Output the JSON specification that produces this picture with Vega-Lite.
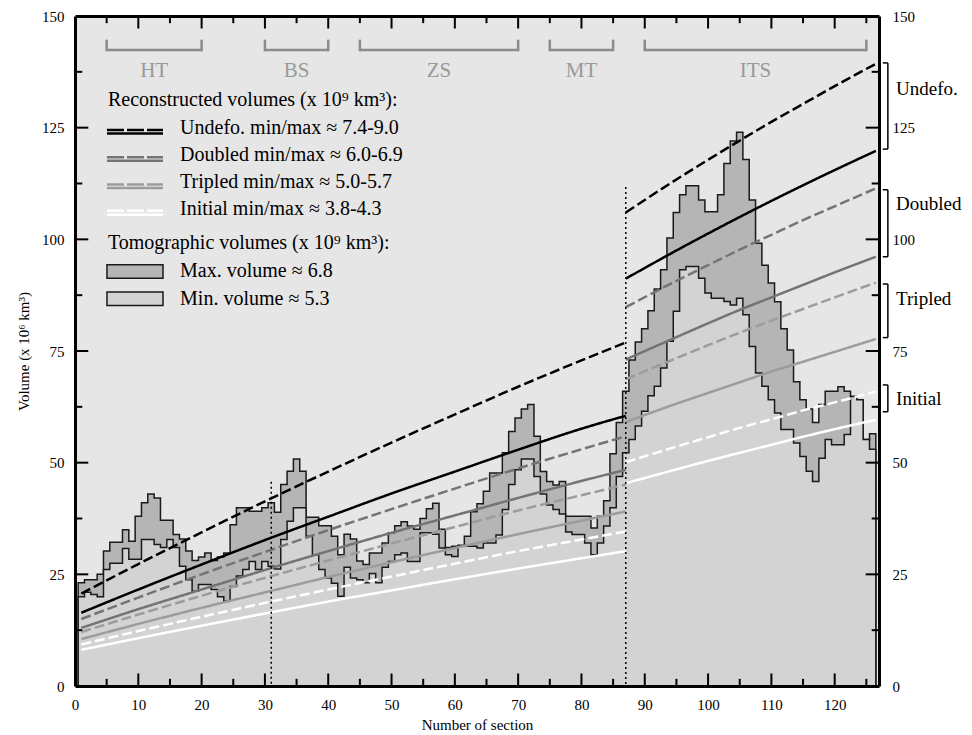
{
"$schema": "https://vega.github.io/schema/vega-lite/v6.json",
"width": 804, "height": 670,
"autosize": "none",
"padding": {"left": 75, "top": 16, "right": 93, "bottom": 49},
"background": "white",
"config": {
  "view": {"fill": "#e6e6e6", "stroke": null},
  "axis": {"grid": false, "ticks": false, "domainColor": "#000", "domainWidth": 3, "labelColor": "#000", "titleColor": "#000", "labelFont": "Liberation Serif", "titleFont": "Liberation Serif", "titleFontWeight": "normal", "labelFlush": false, "labelOverlap": false},
  "text": {"font": "Liberation Serif"}
},
"datasets": {
  "profile": [
    {"s":0.5,"max":23.1,"min":20.0},{"s":1,"max":23.1,"min":20.0},{"s":2,"max":23.8,"min":21.0},{"s":3,"max":23.8,"min":20.5},{"s":4,"max":25.0,"min":20.0},
    {"s":5,"max":30.2,"min":26.1},{"s":6,"max":32.2,"min":27.5},{"s":7,"max":32.2,"min":27.5},{"s":8,"max":35.0,"min":30.8},{"s":9,"max":32.4,"min":28.4},
    {"s":10,"max":38.0,"min":28.4},{"s":11,"max":41.0,"min":32.8},{"s":12,"max":43.0,"min":32.8},{"s":13,"max":42.1,"min":31.7},{"s":14,"max":37.1,"min":31.0},
    {"s":15,"max":37.1,"min":32.8},{"s":16,"max":33.9,"min":31.0},{"s":17,"max":32.9,"min":26.8},{"s":18,"max":30.2,"min":23.8},{"s":19,"max":28.1,"min":21.2},
    {"s":20,"max":28.9,"min":22.7},{"s":21,"max":29.8,"min":22.7},{"s":22,"max":28.1,"min":21.6},{"s":23,"max":28.9,"min":20.0},{"s":24,"max":29.8,"min":19.0},
    {"s":25,"max":36.1,"min":22.3},{"s":26,"max":39.9,"min":24.6},{"s":27,"max":39.9,"min":26.1},{"s":28,"max":39.1,"min":27.9},{"s":29,"max":39.1,"min":26.1},
    {"s":30,"max":39.9,"min":27.9},{"s":31,"max":41.0,"min":26.8},{"s":32,"max":38.9,"min":26.2},{"s":33,"max":45.1,"min":32.8},{"s":34,"max":48.1,"min":36.9},
    {"s":35,"max":50.8,"min":39.9},{"s":36,"max":48.1,"min":39.9},{"s":37,"max":37.8,"min":33.5},{"s":38,"max":37.8,"min":29.4},{"s":39,"max":35.9,"min":26.1},
    {"s":40,"max":35.9,"min":24.2},{"s":41,"max":33.5,"min":23.0},{"s":42,"max":29.4,"min":20.1},{"s":43,"max":34.0,"min":26.6},{"s":44,"max":32.9,"min":24.2},
    {"s":45,"max":28.0,"min":23.8},{"s":46,"max":27.2,"min":23.1},{"s":47,"max":29.8,"min":25.2},{"s":48,"max":29.8,"min":23.1},{"s":49,"max":32.0,"min":26.6},
    {"s":50,"max":34.3,"min":27.9},{"s":51,"max":35.9,"min":29.4},{"s":52,"max":36.8,"min":29.8},{"s":53,"max":35.8,"min":27.9},{"s":54,"max":35.1,"min":27.9},
    {"s":55,"max":37.5,"min":34.3},{"s":56,"max":39.7,"min":34.3},{"s":57,"max":40.9,"min":34.0},{"s":58,"max":35.1,"min":30.9},{"s":59,"max":31.0,"min":29.4},
    {"s":60,"max":31.3,"min":29.0},{"s":61,"max":31.5,"min":31.3},{"s":62,"max":33.5,"min":31.3},{"s":63,"max":39.0,"min":31.3},{"s":64,"max":40.8,"min":30.9},
    {"s":65,"max":43.6,"min":32.0},{"s":66,"max":47.7,"min":32.0},{"s":67,"max":47.7,"min":33.8},{"s":68,"max":52.2,"min":39.5},{"s":69,"max":57.0,"min":45.1},
    {"s":70,"max":60.0,"min":48.4},{"s":71,"max":62.0,"min":50.8},{"s":72,"max":63.0,"min":50.8},{"s":73,"max":55.9,"min":46.9},{"s":74,"max":48.0,"min":43.0},
    {"s":75,"max":45.8,"min":40.5},{"s":76,"max":45.0,"min":39.5},{"s":77,"max":45.8,"min":38.5},{"s":78,"max":38.0,"min":34.5},{"s":79,"max":38.0,"min":33.9},
    {"s":80,"max":38.0,"min":33.9},{"s":81,"max":38.0,"min":32.0},{"s":82,"max":35.4,"min":29.4},{"s":83,"max":38.0,"min":32.0},{"s":84,"max":41.5,"min":35.8},
    {"s":85,"max":52.0,"min":39.9},{"s":86,"max":59.0,"min":46.9},{"s":87,"max":66.0,"min":52.2},{"s":88,"max":73.0,"min":55.2},{"s":89,"max":77.0,"min":58.2},
    {"s":90,"max":80.0,"min":61.5},{"s":91,"max":84.0,"min":65.0},{"s":92,"max":88.9,"min":67.1},{"s":93,"max":93.2,"min":71.2},{"s":94,"max":100.3,"min":77.2},
    {"s":95,"max":106.0,"min":83.9},{"s":96,"max":110.0,"min":93.2},{"s":97,"max":112.0,"min":93.9},{"s":98,"max":112.0,"min":93.9},{"s":99,"max":108.8,"min":91.3},
    {"s":100,"max":106.2,"min":88.0},{"s":101,"max":106.2,"min":86.8},{"s":102,"max":110.0,"min":86.8},{"s":103,"max":117.0,"min":86.1},{"s":104,"max":122.0,"min":85.3},
    {"s":105,"max":124.0,"min":86.8},{"s":106,"max":117.9,"min":83.1},{"s":107,"max":108.8,"min":76.0},{"s":108,"max":99.1,"min":70.1},{"s":109,"max":94.2,"min":67.1},
    {"s":110,"max":90.2,"min":64.1},{"s":111,"max":86.0,"min":61.1},{"s":112,"max":80.0,"min":57.4},{"s":113,"max":75.2,"min":57.4},{"s":114,"max":68.1,"min":54.4},
    {"s":115,"max":64.1,"min":51.4},{"s":116,"max":62.0,"min":48.1},{"s":117,"max":59.0,"min":45.8},{"s":118,"max":63.0,"min":51.0},{"s":119,"max":66.0,"min":55.2},
    {"s":120,"max":66.0,"min":54.0},{"s":121,"max":67.0,"min":54.0},{"s":122,"max":66.0,"min":56.3},{"s":123,"max":64.8,"min":64.8},{"s":124,"max":64.1,"min":64.1},
    {"s":125,"max":55.2,"min":55.2},{"s":126,"max":56.5,"min":53.0},{"s":126.5,"max":56.5,"min":53.0}
  ],
  "lines": [
    {"x":1,"v":20.7,"type":"U","kind":"max","seg":1},{"x":10,"v":27.3,"type":"U","kind":"max","seg":1},{"x":20,"v":34.4,"type":"U","kind":"max","seg":1},{"x":31,"v":42.0,"type":"U","kind":"max","seg":1},{"x":40,"v":48.0,"type":"U","kind":"max","seg":1},{"x":50,"v":54.5,"type":"U","kind":"max","seg":1},{"x":60,"v":60.8,"type":"U","kind":"max","seg":1},{"x":70,"v":67.0,"type":"U","kind":"max","seg":1},{"x":80,"v":72.9,"type":"U","kind":"max","seg":1},{"x":87,"v":76.9,"type":"U","kind":"max","seg":1},
    {"x":1,"v":16.4,"type":"U","kind":"min","seg":1},{"x":10,"v":21.6,"type":"U","kind":"min","seg":1},{"x":20,"v":27.2,"type":"U","kind":"min","seg":1},{"x":31,"v":33.2,"type":"U","kind":"min","seg":1},{"x":40,"v":37.9,"type":"U","kind":"min","seg":1},{"x":50,"v":43.1,"type":"U","kind":"min","seg":1},{"x":60,"v":48.0,"type":"U","kind":"min","seg":1},{"x":70,"v":52.9,"type":"U","kind":"min","seg":1},{"x":80,"v":57.6,"type":"U","kind":"min","seg":1},{"x":87,"v":60.5,"type":"U","kind":"min","seg":1},
    {"x":1,"v":15.0,"type":"D","kind":"max","seg":1},{"x":10,"v":19.8,"type":"D","kind":"max","seg":1},{"x":20,"v":25.0,"type":"D","kind":"max","seg":1},{"x":31,"v":30.5,"type":"D","kind":"max","seg":1},{"x":40,"v":34.9,"type":"D","kind":"max","seg":1},{"x":50,"v":39.6,"type":"D","kind":"max","seg":1},{"x":60,"v":44.2,"type":"D","kind":"max","seg":1},{"x":70,"v":48.7,"type":"D","kind":"max","seg":1},{"x":80,"v":53.0,"type":"D","kind":"max","seg":1},{"x":87,"v":55.9,"type":"D","kind":"max","seg":1},
    {"x":1,"v":13.0,"type":"D","kind":"min","seg":1},{"x":10,"v":17.2,"type":"D","kind":"min","seg":1},{"x":20,"v":21.6,"type":"D","kind":"min","seg":1},{"x":31,"v":26.4,"type":"D","kind":"min","seg":1},{"x":40,"v":30.2,"type":"D","kind":"min","seg":1},{"x":50,"v":34.3,"type":"D","kind":"min","seg":1},{"x":60,"v":38.2,"type":"D","kind":"min","seg":1},{"x":70,"v":42.1,"type":"D","kind":"min","seg":1},{"x":80,"v":45.9,"type":"D","kind":"min","seg":1},{"x":87,"v":48.4,"type":"D","kind":"min","seg":1},
    {"x":1,"v":12.1,"type":"T","kind":"max","seg":1},{"x":10,"v":16.0,"type":"T","kind":"max","seg":1},{"x":20,"v":20.2,"type":"T","kind":"max","seg":1},{"x":31,"v":24.6,"type":"T","kind":"max","seg":1},{"x":40,"v":28.1,"type":"T","kind":"max","seg":1},{"x":50,"v":31.9,"type":"T","kind":"max","seg":1},{"x":60,"v":35.6,"type":"T","kind":"max","seg":1},{"x":70,"v":39.3,"type":"T","kind":"max","seg":1},{"x":80,"v":42.7,"type":"T","kind":"max","seg":1},{"x":87,"v":45.1,"type":"T","kind":"max","seg":1},
    {"x":1,"v":10.5,"type":"T","kind":"min","seg":1},{"x":10,"v":13.9,"type":"T","kind":"min","seg":1},{"x":20,"v":17.5,"type":"T","kind":"min","seg":1},{"x":31,"v":21.3,"type":"T","kind":"min","seg":1},{"x":40,"v":24.4,"type":"T","kind":"min","seg":1},{"x":50,"v":27.7,"type":"T","kind":"min","seg":1},{"x":60,"v":30.9,"type":"T","kind":"min","seg":1},{"x":70,"v":34.0,"type":"T","kind":"min","seg":1},{"x":80,"v":37.0,"type":"T","kind":"min","seg":1},{"x":87,"v":39.1,"type":"T","kind":"min","seg":1},
    {"x":1,"v":9.3,"type":"I","kind":"max","seg":1},{"x":10,"v":12.3,"type":"I","kind":"max","seg":1},{"x":20,"v":15.5,"type":"I","kind":"max","seg":1},{"x":31,"v":18.9,"type":"I","kind":"max","seg":1},{"x":40,"v":21.6,"type":"I","kind":"max","seg":1},{"x":50,"v":24.5,"type":"I","kind":"max","seg":1},{"x":60,"v":27.4,"type":"I","kind":"max","seg":1},{"x":70,"v":30.2,"type":"I","kind":"max","seg":1},{"x":80,"v":32.8,"type":"I","kind":"max","seg":1},{"x":87,"v":34.6,"type":"I","kind":"max","seg":1},
    {"x":1,"v":8.1,"type":"I","kind":"min","seg":1},{"x":10,"v":10.7,"type":"I","kind":"min","seg":1},{"x":20,"v":13.5,"type":"I","kind":"min","seg":1},{"x":31,"v":16.5,"type":"I","kind":"min","seg":1},{"x":40,"v":18.9,"type":"I","kind":"min","seg":1},{"x":50,"v":21.4,"type":"I","kind":"min","seg":1},{"x":60,"v":23.9,"type":"I","kind":"min","seg":1},{"x":70,"v":26.3,"type":"I","kind":"min","seg":1},{"x":80,"v":28.6,"type":"I","kind":"min","seg":1},{"x":87,"v":30.2,"type":"I","kind":"min","seg":1},
    {"x":87,"v":106.0,"type":"U","kind":"max","seg":2},{"x":95,"v":113.4,"type":"U","kind":"max","seg":2},{"x":100,"v":117.8,"type":"U","kind":"max","seg":2},{"x":105,"v":122.1,"type":"U","kind":"max","seg":2},{"x":110,"v":126.3,"type":"U","kind":"max","seg":2},{"x":115,"v":130.3,"type":"U","kind":"max","seg":2},{"x":120,"v":134.3,"type":"U","kind":"max","seg":2},{"x":126.5,"v":139.3,"type":"U","kind":"max","seg":2},
    {"x":87,"v":91.2,"type":"U","kind":"min","seg":2},{"x":95,"v":97.5,"type":"U","kind":"min","seg":2},{"x":100,"v":101.3,"type":"U","kind":"min","seg":2},{"x":105,"v":105.0,"type":"U","kind":"min","seg":2},{"x":110,"v":108.6,"type":"U","kind":"min","seg":2},{"x":115,"v":112.1,"type":"U","kind":"min","seg":2},{"x":120,"v":115.5,"type":"U","kind":"min","seg":2},{"x":126.5,"v":119.8,"type":"U","kind":"min","seg":2},
    {"x":87,"v":84.8,"type":"D","kind":"max","seg":2},{"x":95,"v":90.7,"type":"D","kind":"max","seg":2},{"x":100,"v":94.2,"type":"D","kind":"max","seg":2},{"x":105,"v":97.7,"type":"D","kind":"max","seg":2},{"x":110,"v":101.0,"type":"D","kind":"max","seg":2},{"x":115,"v":104.3,"type":"D","kind":"max","seg":2},{"x":120,"v":107.4,"type":"D","kind":"max","seg":2},{"x":126.5,"v":111.4,"type":"D","kind":"max","seg":2},
    {"x":87,"v":73.1,"type":"D","kind":"min","seg":2},{"x":95,"v":78.1,"type":"D","kind":"min","seg":2},{"x":100,"v":81.2,"type":"D","kind":"min","seg":2},{"x":105,"v":84.2,"type":"D","kind":"min","seg":2},{"x":110,"v":87.0,"type":"D","kind":"min","seg":2},{"x":115,"v":89.8,"type":"D","kind":"min","seg":2},{"x":120,"v":92.6,"type":"D","kind":"min","seg":2},{"x":126.5,"v":96.1,"type":"D","kind":"min","seg":2},
    {"x":87,"v":68.7,"type":"T","kind":"max","seg":2},{"x":95,"v":73.4,"type":"T","kind":"max","seg":2},{"x":100,"v":76.3,"type":"T","kind":"max","seg":2},{"x":105,"v":79.1,"type":"T","kind":"max","seg":2},{"x":110,"v":81.8,"type":"T","kind":"max","seg":2},{"x":115,"v":84.4,"type":"T","kind":"max","seg":2},{"x":120,"v":87.0,"type":"T","kind":"max","seg":2},{"x":126.5,"v":90.3,"type":"T","kind":"max","seg":2},
    {"x":87,"v":59.1,"type":"T","kind":"min","seg":2},{"x":95,"v":63.2,"type":"T","kind":"min","seg":2},{"x":100,"v":65.6,"type":"T","kind":"min","seg":2},{"x":105,"v":68.0,"type":"T","kind":"min","seg":2},{"x":110,"v":70.4,"type":"T","kind":"min","seg":2},{"x":115,"v":72.6,"type":"T","kind":"min","seg":2},{"x":120,"v":74.8,"type":"T","kind":"min","seg":2},{"x":126.5,"v":77.7,"type":"T","kind":"min","seg":2},
    {"x":87,"v":50.1,"type":"I","kind":"max","seg":2},{"x":95,"v":53.6,"type":"I","kind":"max","seg":2},{"x":100,"v":55.7,"type":"I","kind":"max","seg":2},{"x":105,"v":57.8,"type":"I","kind":"max","seg":2},{"x":110,"v":59.7,"type":"I","kind":"max","seg":2},{"x":115,"v":61.7,"type":"I","kind":"max","seg":2},{"x":120,"v":63.5,"type":"I","kind":"max","seg":2},{"x":126.5,"v":65.9,"type":"I","kind":"max","seg":2},
    {"x":87,"v":45.4,"type":"I","kind":"min","seg":2},{"x":95,"v":48.5,"type":"I","kind":"min","seg":2},{"x":100,"v":50.4,"type":"I","kind":"min","seg":2},{"x":105,"v":52.2,"type":"I","kind":"min","seg":2},{"x":110,"v":54.0,"type":"I","kind":"min","seg":2},{"x":115,"v":55.8,"type":"I","kind":"min","seg":2},{"x":120,"v":57.5,"type":"I","kind":"min","seg":2},{"x":126.5,"v":59.6,"type":"I","kind":"min","seg":2}
  ],
  "dotted": [{"x":31,"top":45.7},{"x":87,"top":111.7}],
  "xticks": [{"tv":5},{"tv":10},{"tv":15},{"tv":20},{"tv":25},{"tv":30},{"tv":35},{"tv":40},{"tv":45},{"tv":50},{"tv":55},{"tv":60},{"tv":65},{"tv":70},{"tv":75},{"tv":80},{"tv":85},{"tv":90},{"tv":95},{"tv":100},{"tv":105},{"tv":110},{"tv":115},{"tv":120},{"tv":125}],
  "yticks": [{"tv":12.5},{"tv":25},{"tv":37.5},{"tv":50},{"tv":62.5},{"tv":75},{"tv":87.5},{"tv":100},{"tv":112.5},{"tv":125},{"tv":137.5}],
  "regions": [{"label":"HT","from":5,"to":20},{"label":"BS","from":30,"to":40},{"label":"ZS","from":45,"to":70},{"label":"MT","from":75,"to":85},{"label":"ITS","from":90,"to":125}],
  "brackets": [{"label":"Undefo.","lo":120.2,"hi":139.5,"ty":133.6},{"label":"Doubled","lo":96.1,"hi":111.1,"ty":107.9},{"label":"Tripled","lo":78.0,"hi":90.0,"ty":86.6},{"label":"Initial","lo":61.4,"hi":67.4,"ty":64.3}],
  "legendLines": [
    {"type":"U","kind":"max","y":124.5},{"type":"U","kind":"min","y":123.7},
    {"type":"D","kind":"max","y":118.4},{"type":"D","kind":"min","y":117.6},
    {"type":"T","kind":"max","y":112.3},{"type":"T","kind":"min","y":111.5},
    {"type":"I","kind":"max","y":106.4},{"type":"I","kind":"min","y":105.5}
  ],
  "legendBoxes": [{"kind":"max","lo":91.3,"hi":94.3},{"kind":"min","lo":85.2,"hi":88.2}],
  "legendText": [
    {"group":"h","text":"Reconstructed volumes (x 10⁹ km³):","y":131.2},
    {"group":"i","text":"Undefo. min/max ≈ 7.4-9.0","y":125.0},
    {"group":"i","text":"Doubled min/max ≈ 6.0-6.9","y":118.9},
    {"group":"i","text":"Tripled min/max ≈ 5.0-5.7","y":112.9},
    {"group":"i","text":"Initial min/max ≈ 3.8-4.3","y":106.8},
    {"group":"h","text":"Tomographic volumes (x 10⁹ km³):","y":99.1},
    {"group":"i","text":"Max. volume ≈ 6.8","y":92.8},
    {"group":"i","text":"Min. volume ≈ 5.3","y":86.6}
  ]
},
"resolve": {"axis": {"x": "independent", "y": "independent"}},
"layer": [
  {
    "data": {"name": "profile"},
    "mark": {"type": "area", "interpolate": "step", "fill": "#b5b5b5", "stroke": "#1a1a1a", "strokeWidth": 1.5},
    "encoding": {
      "x": {"field": "s", "type": "quantitative", "scale": {"domain": [0, 127], "nice": false, "zero": false},
        "axis": {"orient": "bottom", "zindex": 1, "values": [0,10,20,30,40,50,60,70,80,90,100,110,120],
          "labelFontSize": 15, "labelPadding": 11, "title": "Number of section", "titleFontSize": 15, "titlePadding": 5}},
      "y": {"field": "max", "type": "quantitative", "scale": {"domain": [0, 150], "nice": false},
        "axis": {"orient": "left", "zindex": 1, "values": [0,25,50,75,100,125,150],
          "labelFontSize": 15, "labelPadding": 11, "title": "Volume (x 10⁶ km³)", "titleFontSize": 15, "titlePadding": 10}}
    }
  },
  {
    "data": {"name": "profile"},
    "mark": {"type": "area", "interpolate": "step", "fill": "#d3d3d3", "stroke": "#1a1a1a", "strokeWidth": 1.5},
    "encoding": {
      "x": {"field": "s", "type": "quantitative",
        "axis": {"orient": "top", "zindex": 1, "values": [0,125], "labels": false, "title": null}},
      "y": {"field": "min", "type": "quantitative",
        "axis": {"orient": "right", "zindex": 1, "values": [0,25,50,75,100,125,150],
          "labelFontSize": 15, "labelPadding": 13, "title": null}}
    }
  },
  {
    "data": {"name": "lines"},
    "mark": {"type": "line", "interpolate": "monotone", "strokeWidth": 2.5},
    "encoding": {
      "x": {"field": "x", "type": "quantitative", "axis": null},
      "y": {"field": "v", "type": "quantitative", "axis": null},
      "color": {"field": "type", "type": "nominal", "scale": {"domain": ["U","D","T","I"], "range": ["#000000","#747474","#9c9c9c","#ffffff"]}, "legend": null},
      "strokeDash": {"field": "kind", "type": "nominal", "scale": {"domain": ["max","min"], "range": [[10,4],[1,0]]}, "legend": null},
      "detail": {"field": "seg", "type": "nominal"}
    }
  },
  {
    "data": {"name": "dotted"},
    "mark": {"type": "rule", "color": "#000", "strokeWidth": 1.5, "strokeDash": [2, 3]},
    "encoding": {
      "x": {"field": "x", "type": "quantitative", "axis": null},
      "y": {"field": "top", "type": "quantitative", "axis": null},
      "y2": {"datum": 0}
    }
  },
  {
    "data": {"name": "xticks"},
    "transform": [{"calculate": "datum.tv % 10 === 0 ? 2.8 : 1.6", "as": "len"}],
    "mark": {"type": "rule", "color": "#000", "strokeWidth": 2},
    "encoding": {
      "x": {"field": "tv", "type": "quantitative", "axis": null},
      "y": {"field": "len", "type": "quantitative", "axis": null},
      "y2": {"datum": 0}
    }
  },
  {
    "data": {"name": "xticks"},
    "transform": [{"calculate": "datum.tv % 10 === 0 ? 147.2 : 148.4", "as": "len"}],
    "mark": {"type": "rule", "color": "#000", "strokeWidth": 2},
    "encoding": {
      "x": {"field": "tv", "type": "quantitative", "axis": null},
      "y": {"field": "len", "type": "quantitative", "axis": null},
      "y2": {"datum": 150}
    }
  },
  {
    "data": {"name": "yticks"},
    "transform": [{"calculate": "datum.tv % 25 === 0 ? 2.1 : 1.15", "as": "len"}],
    "mark": {"type": "rule", "color": "#000", "strokeWidth": 2},
    "encoding": {
      "y": {"field": "tv", "type": "quantitative", "axis": null},
      "x": {"field": "len", "type": "quantitative", "axis": null},
      "x2": {"datum": 0}
    }
  },
  {
    "data": {"name": "yticks"},
    "transform": [{"calculate": "datum.tv % 25 === 0 ? 124.9 : 125.85", "as": "len"}],
    "mark": {"type": "rule", "color": "#000", "strokeWidth": 2},
    "encoding": {
      "y": {"field": "tv", "type": "quantitative", "axis": null},
      "x": {"field": "len", "type": "quantitative", "axis": null},
      "x2": {"datum": 127}
    }
  },
  {
    "data": {"name": "regions"},
    "mark": {"type": "rule", "color": "#8c8c8c", "strokeWidth": 2.5},
    "encoding": {
      "x": {"field": "from", "type": "quantitative", "axis": null},
      "x2": {"field": "to"},
      "y": {"datum": 142.4, "type": "quantitative", "axis": null}
    }
  },
  {
    "data": {"name": "regions"},
    "mark": {"type": "rule", "color": "#8c8c8c", "strokeWidth": 2.5},
    "encoding": {
      "x": {"field": "from", "type": "quantitative", "axis": null},
      "y": {"datum": 142.1, "type": "quantitative", "axis": null},
      "y2": {"datum": 144.7}
    }
  },
  {
    "data": {"name": "regions"},
    "mark": {"type": "rule", "color": "#8c8c8c", "strokeWidth": 2.5},
    "encoding": {
      "x": {"field": "to", "type": "quantitative", "axis": null},
      "y": {"datum": 142.1, "type": "quantitative", "axis": null},
      "y2": {"datum": 144.7}
    }
  },
  {
    "data": {"name": "regions"},
    "transform": [{"calculate": "(datum.from + datum.to) / 2", "as": "mid"}],
    "mark": {"type": "text", "fontSize": 21, "color": "#999999", "baseline": "middle", "align": "center"},
    "encoding": {
      "x": {"field": "mid", "type": "quantitative", "axis": null},
      "y": {"datum": 137.7, "type": "quantitative", "axis": null},
      "text": {"field": "label", "type": "nominal"}
    }
  },
  {
    "data": {"name": "brackets"},
    "mark": {"type": "rule", "color": "#000", "strokeWidth": 1.5},
    "encoding": {
      "x": {"datum": 128.4, "type": "quantitative", "axis": null},
      "y": {"field": "lo", "type": "quantitative", "axis": null},
      "y2": {"field": "hi"}
    }
  },
  {
    "data": {"name": "brackets"},
    "mark": {"type": "rule", "color": "#000", "strokeWidth": 1.5},
    "encoding": {
      "x": {"datum": 127.6, "type": "quantitative", "axis": null},
      "x2": {"datum": 128.4},
      "y": {"field": "lo", "type": "quantitative", "axis": null}
    }
  },
  {
    "data": {"name": "brackets"},
    "mark": {"type": "rule", "color": "#000", "strokeWidth": 1.5},
    "encoding": {
      "x": {"datum": 127.6, "type": "quantitative", "axis": null},
      "x2": {"datum": 128.4},
      "y": {"field": "hi", "type": "quantitative", "axis": null}
    }
  },
  {
    "data": {"name": "brackets"},
    "mark": {"type": "text", "fontSize": 19, "color": "#000", "baseline": "middle", "align": "left"},
    "encoding": {
      "x": {"datum": 129.7, "type": "quantitative", "axis": null},
      "y": {"field": "ty", "type": "quantitative", "axis": null},
      "text": {"field": "label", "type": "nominal"}
    }
  },
  {
    "data": {"name": "legendLines"},
    "transform": [{"filter": "datum.kind === 'max'"}],
    "mark": {"type": "rule", "strokeWidth": 2.5, "strokeDash": [17, 3]},
    "encoding": {
      "x": {"datum": 5.05, "type": "quantitative", "axis": null},
      "x2": {"datum": 13.9},
      "y": {"field": "y", "type": "quantitative", "axis": null},
      "color": {"field": "type", "type": "nominal", "legend": null}
    }
  },
  {
    "data": {"name": "legendLines"},
    "transform": [{"filter": "datum.kind === 'min'"}],
    "mark": {"type": "rule", "strokeWidth": 2.5},
    "encoding": {
      "x": {"datum": 5.05, "type": "quantitative", "axis": null},
      "x2": {"datum": 13.9},
      "y": {"field": "y", "type": "quantitative", "axis": null},
      "color": {"field": "type", "type": "nominal", "legend": null}
    }
  },
  {
    "data": {"name": "legendBoxes"},
    "mark": {"type": "rect", "stroke": "#1a1a1a", "strokeWidth": 1.5},
    "encoding": {
      "x": {"datum": 5.05, "type": "quantitative", "axis": null},
      "x2": {"datum": 13.9},
      "y": {"field": "lo", "type": "quantitative", "axis": null},
      "y2": {"field": "hi"},
      "fill": {"field": "kind", "type": "nominal", "scale": {"domain": ["max","min"], "range": ["#b5b5b5","#d3d3d3"]}, "legend": null}
    }
  },
  {
    "data": {"name": "legendText"},
    "transform": [{"filter": "datum.group === 'h'"}],
    "mark": {"type": "text", "fontSize": 20, "color": "#000", "baseline": "middle", "align": "left"},
    "encoding": {
      "x": {"datum": 5.2, "type": "quantitative", "axis": null},
      "y": {"field": "y", "type": "quantitative", "axis": null},
      "text": {"field": "text", "type": "nominal"}
    }
  },
  {
    "data": {"name": "legendText"},
    "transform": [{"filter": "datum.group === 'i'"}],
    "mark": {"type": "text", "fontSize": 20, "color": "#000", "baseline": "middle", "align": "left"},
    "encoding": {
      "x": {"datum": 16.6, "type": "quantitative", "axis": null},
      "y": {"field": "y", "type": "quantitative", "axis": null},
      "text": {"field": "text", "type": "nominal"}
    }
  }
]
}
